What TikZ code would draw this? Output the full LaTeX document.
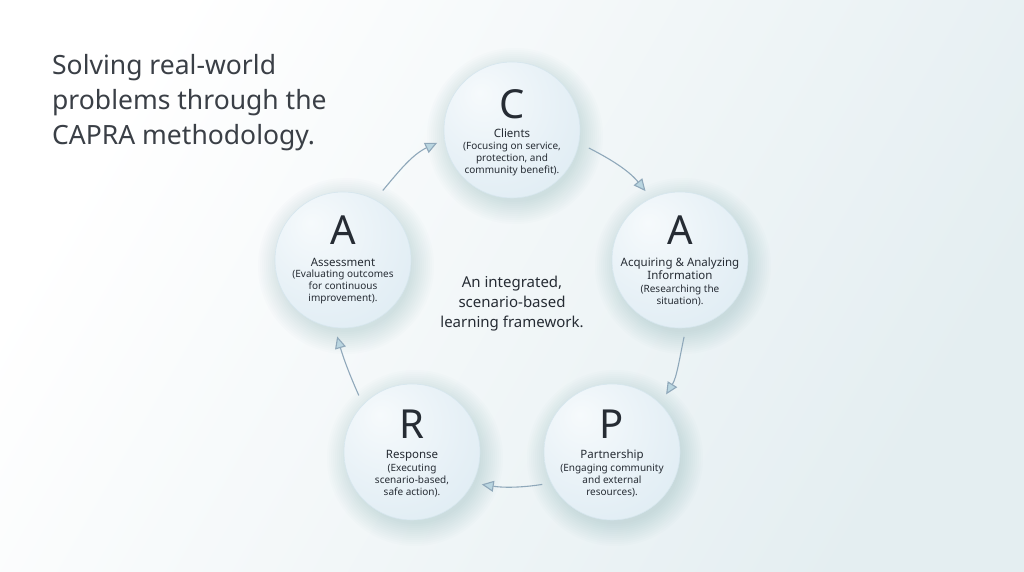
\documentclass[tikz,border=0pt]{standalone}
\usepackage{fontspec}
\setmainfont{Noto Sans}
\usetikzlibrary{arrows.meta,calc,positioning}
\definecolor{txt}{HTML}{262C34}
\definecolor{ttl}{HTML}{3A3F46}
\definecolor{bgB}{HTML}{E4EEF1}
\definecolor{bgM}{HTML}{F6F8F9}
\definecolor{bubA}{HTML}{F6FAFC}
\definecolor{bubB}{HTML}{E6F0F6}
\definecolor{bubC}{HTML}{D7E8F0}
\definecolor{bubD}{HTML}{C9DFE9}
\definecolor{bubEdge}{HTML}{D6E6EE}
\definecolor{shd}{HTML}{4F7A90}
\definecolor{arrLine}{HTML}{8FA8BA}
\definecolor{arrFill}{HTML}{B9D5E0}
\pgfdeclareradialshading{bubble}{\pgfpoint{-12bp}{14bp}}{color(0bp)=(bubA); color(26bp)=(bubB); color(52bp)=(bubC); color(68bp)=(bubD)}
\tikzset{
  bubble/.style={circle, minimum size=136pt, inner sep=0pt, shading=bubble, draw=bubEdge, line width=0.6pt},
  letter/.style={inner sep=0pt, text=txt, font=\fontsize{40}{44}\selectfont},
  head/.style={inner sep=0pt, text=txt, align=center, font=\fontsize{11.5}{13}\selectfont},
  desc/.style={inner sep=0pt, text=txt, align=center, font=\fontsize{10}{12}\selectfont},
  arr/.style={draw=arrLine, line width=1.1pt, -{Triangle[length=12pt,width=11pt,fill=arrFill]}},
}
\newcommand{\softshadow}[1]{%
  \foreach \rr in {66,68,...,88} {\fill[shd, opacity=0.015] ($(#1)+(3,-6)$) circle (\rr);}}
\begin{document}
\begin{tikzpicture}[x=1pt,y=1pt]
\useasboundingbox (0,0) rectangle (1024,572);
\shade[top color=white, middle color=bgM, bottom color=bgB, shading angle=60] (0,0) rectangle (1024,572);

% title
\node[anchor=north west, inner sep=0pt, text=ttl, align=left, font=\fontsize{26.5}{35}\selectfont] (title) at (52,518) {Solving real-world\\problems through the\\CAPRA methodology.};

% center text
\node[inner sep=0pt, text=txt, align=center, font=\fontsize{15}{20}\selectfont] (mid) at (512,268) {An integrated,\\scenario-based\\learning framework.};

% positions and shadows
\coordinate (cpos) at (512,442);
\coordinate (arpos) at (680,312);
\coordinate (ppos) at (612,120);
\coordinate (rpos) at (412,120);
\coordinate (alpos) at (343,312);
\softshadow{cpos}\softshadow{arpos}\softshadow{ppos}\softshadow{rpos}\softshadow{alpos}

% bubbles
\node[bubble] (c) at (cpos) {};
\node[bubble] (ar) at (arpos) {};
\node[bubble] (p) at (ppos) {};
\node[bubble] (r) at (rpos) {};
\node[bubble] (al) at (alpos) {};

% C
\node[letter] (cL) at ($(c)+(0,26)$) {C};
\node[head, anchor=north] (cH) at ($(c)+(0,1)$) {Clients};
\node[desc, below=4pt of cH] (cD) {(Focusing on service,\\protection, and\\community benefit).};
% A right
\node[letter] (arL) at ($(ar)+(0,30)$) {A};
\node[head, anchor=north] (arH) at ($(ar)+(0,2)$) {Acquiring \& Analyzing\\Information};
\node[desc, below=4pt of arH] (arD) {(Researching the\\situation).};
% P
\node[letter] (pL) at ($(p)+(0,28)$) {P};
\node[head, anchor=north] (pH) at ($(p)+(0,2)$) {Partnership};
\node[desc, below=2.5pt of pH] (pD) {(Engaging community\\and external\\resources).};
% R
\node[letter] (rL) at ($(r)+(0,28)$) {R};
\node[head, anchor=north] (rH) at ($(r)+(0,2)$) {Response};
\node[desc, below=2.5pt of rH] (rD) {(Executing\\scenario-based,\\safe action).};
% A left
\node[letter] (alL) at ($(al)+(0,30)$) {A};
\node[head, anchor=north] (alH) at ($(al)+(0,2)$) {Assessment};
\node[desc, below=3pt of alH] (alD) {(Evaluating outcomes\\for continuous\\improvement).};

% arrows
\draw[arr, shorten <=11pt, shorten >=9pt] (c.-11) to[out=-27,in=129] (ar.115);
\draw[arr, shorten <=9pt, shorten >=11pt] (ar.-85) to[out=-102,in=58] (p.45);
\draw[arr, shorten <=9pt, shorten >=9pt] (p.207) to[out=189,in=-9] (r.-27);
\draw[arr, shorten <=10pt, shorten >=9pt] (r.136) to[out=114,in=-74] (al.-97);
\draw[arr, shorten <=12pt, shorten >=8pt] (al.62) to[out=50,in=205] (c.188);
\end{tikzpicture}
\end{document}
